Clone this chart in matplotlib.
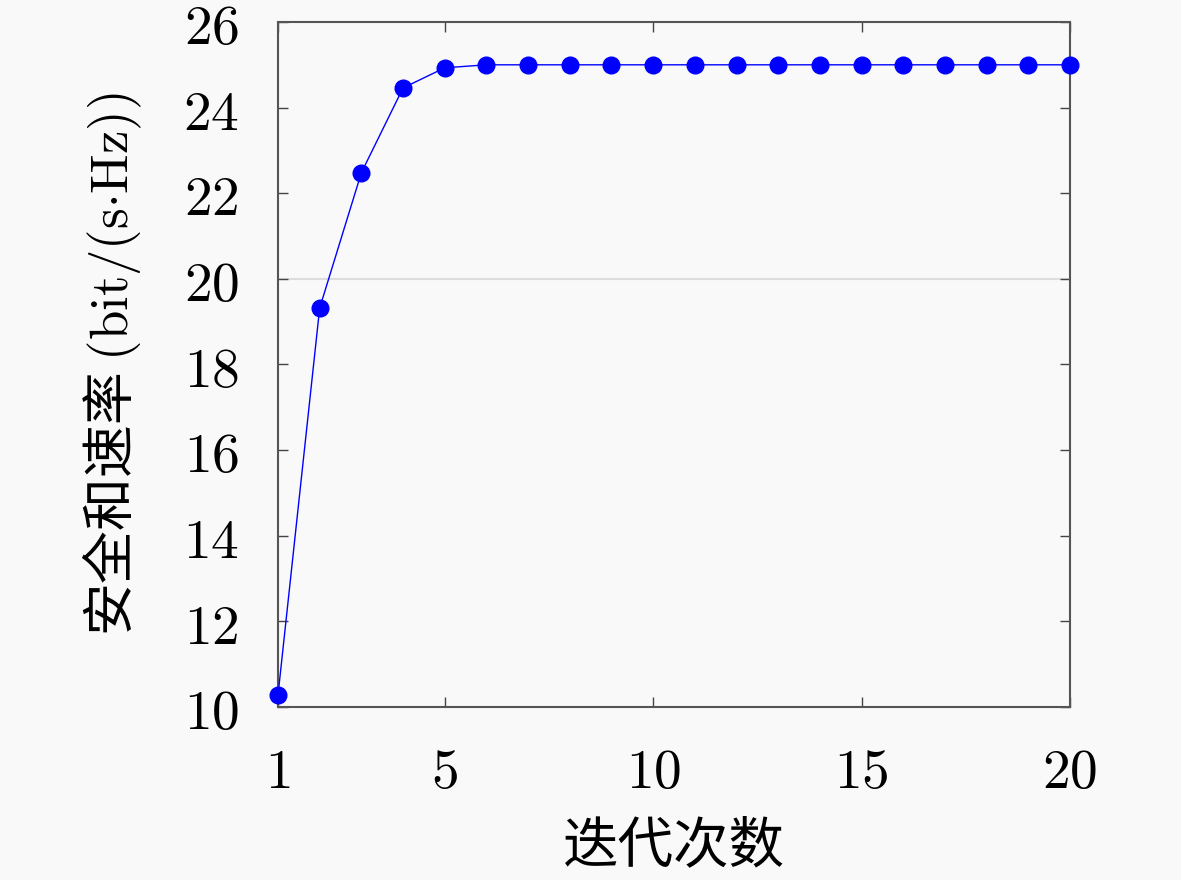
import matplotlib
matplotlib.use('Agg')
import matplotlib.pyplot as plt

plt.rcParams['font.family'] = ['Noto Sans CJK SC', 'DejaVu Sans']
plt.rcParams['mathtext.fontset'] = 'cm'

# iteration count vs secure sum rate
iterations = list(range(1, 21))
sum_rate = [10.28, 19.32, 22.48, 24.46, 24.93, 25.0, 25.0, 25.0, 25.0, 25.0,
            25.0, 25.0, 25.0, 25.0, 25.0, 25.0, 25.0, 25.0, 25.0, 25.0]

x_ticks = [1, 5, 10, 15, 20]
y_ticks = [10, 12, 14, 16, 18, 20, 22, 24, 26]

fig = plt.figure(figsize=(11.81, 8.8), dpi=100, facecolor='#f9f9f9')
ax = fig.add_axes([0.2354, 0.1966, 0.6706, 0.7784])
ax.set_facecolor('#f9f9f9')

ax.axhline(20, color='#dddddd', lw=1.5, zorder=0)
ax.plot(iterations, sum_rate, color='blue', lw=1.0, marker='o',
        markersize=12, clip_on=False, zorder=3)

ax.set_xlim(1, 20)
ax.set_ylim(10, 26)
ax.set_xticks(x_ticks)
ax.set_xticklabels(['$%d$' % t for t in x_ticks])
ax.set_yticks(y_ticks)
ax.set_yticklabels(['$%d$' % t for t in y_ticks])
ax.tick_params(direction='in', length=7, width=1, colors='#444444',
               labelcolor='black', labelsize=40, top=True, right=True)
ax.tick_params(axis='x', pad=26)
ax.tick_params(axis='y', pad=28)

for s in ax.spines.values():
    s.set_color('#555555')
    s.set_linewidth(1.5)

ax.set_xlabel('迭代次数', fontsize=40, labelpad=12)
ax.set_ylabel('安全和速率 $(\\mathrm{bit/(s{\\cdot}Hz)})$', fontsize=38, labelpad=28)

fig.savefig('out.png', dpi=100, facecolor=fig.get_facecolor())
